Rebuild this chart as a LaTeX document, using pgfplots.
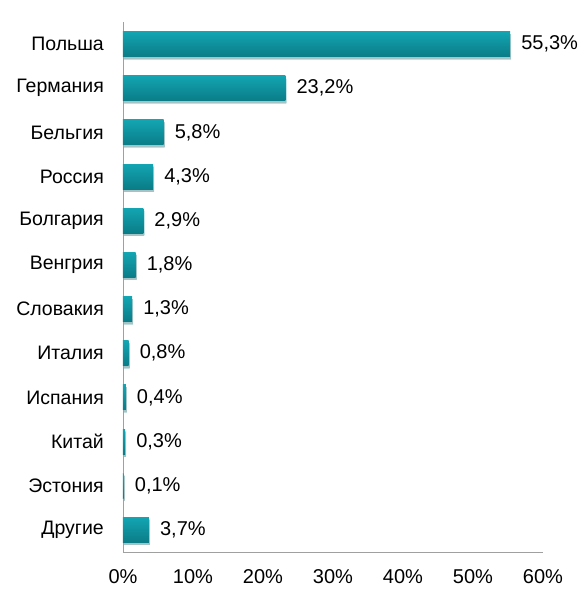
\documentclass[border=0pt]{standalone}
\usepackage{pgfplots}
\pgfplotsset{compat=1.18}
\usepackage{fontspec}
\setmainfont{Liberation Sans}
\usetikzlibrary{shadows}
\definecolor{bartop}{HTML}{13A5B2}
\definecolor{barbot}{HTML}{0A7C87}
\definecolor{axgray}{HTML}{A0A0A0}
\pgfplotsset{onebar/.style={draw=none, top color=bartop, bottom color=barbot,
  drop shadow={shadow xshift=1bp, shadow yshift=-2.5bp, opacity=0.25, fill=black!60}}}
\begin{document}
\fontsize{20bp}{24bp}\selectfont
\begin{tikzpicture}
\path[use as bounding box] (-123bp,-48bp) rectangle (464bp,552bp);
\begin{axis}[
  scale only axis,
  width=420bp, height=530bp,
  xbar, bar width=25bp, bar shift=0pt,
  xmin=0, xmax=60,
  ymin=-0.5, ymax=11.5,
  y dir=reverse,
  axis x line*=bottom, axis y line*=left,
  axis line style={draw=axgray, line width=0.8bp, -},
  xtick={0,10,...,60},
  xticklabels={0\%,10\%,20\%,30\%,40\%,50\%,60\%},
  ytick={0,...,11},
  yticklabels={Польша,Германия,Бельгия,Россия,Болгария,Венгрия,Словакия,Италия,Испания,Китай,Эстония,Другие},
  major tick length=0pt,
  tick style={draw=none},
  xticklabel style={anchor=north, inner sep=0pt, yshift=-17bp, font=\fontsize{20bp}{24bp}\selectfont},
  yticklabel style={anchor=east, inner sep=0pt, xshift=-19bp, font=\fontsize{19.5bp}{24bp}\selectfont},
  nodes near coords={\pgfmathprintnumber[fixed,fixed zerofill,precision=1,use comma,assume math mode=true]{\pgfplotspointmeta}\%},
  every node near coord/.append style={anchor=west, inner sep=0pt, xshift=11bp, font=\fontsize{20bp}{24bp}\selectfont, black},
  point meta=explicit,
  clip=false,
]
\addplot[onebar] coordinates {(55.3,0) [55.3]};
\addplot[onebar] coordinates {(23.2,1) [23.2]};
\addplot[onebar] coordinates {(5.8,2) [5.8]};
\addplot[onebar] coordinates {(4.3,3) [4.3]};
\addplot[onebar] coordinates {(2.9,4) [2.9]};
\addplot[onebar] coordinates {(1.8,5) [1.8]};
\addplot[onebar] coordinates {(1.3,6) [1.3]};
\addplot[onebar] coordinates {(0.8,7) [0.8]};
\addplot[onebar] coordinates {(0.4,8) [0.4]};
\addplot[onebar] coordinates {(0.3,9) [0.3]};
\addplot[onebar] coordinates {(0.1,10) [0.1]};
\addplot[onebar] coordinates {(3.7,11) [3.7]};
\end{axis}
\end{tikzpicture}
\end{document}
